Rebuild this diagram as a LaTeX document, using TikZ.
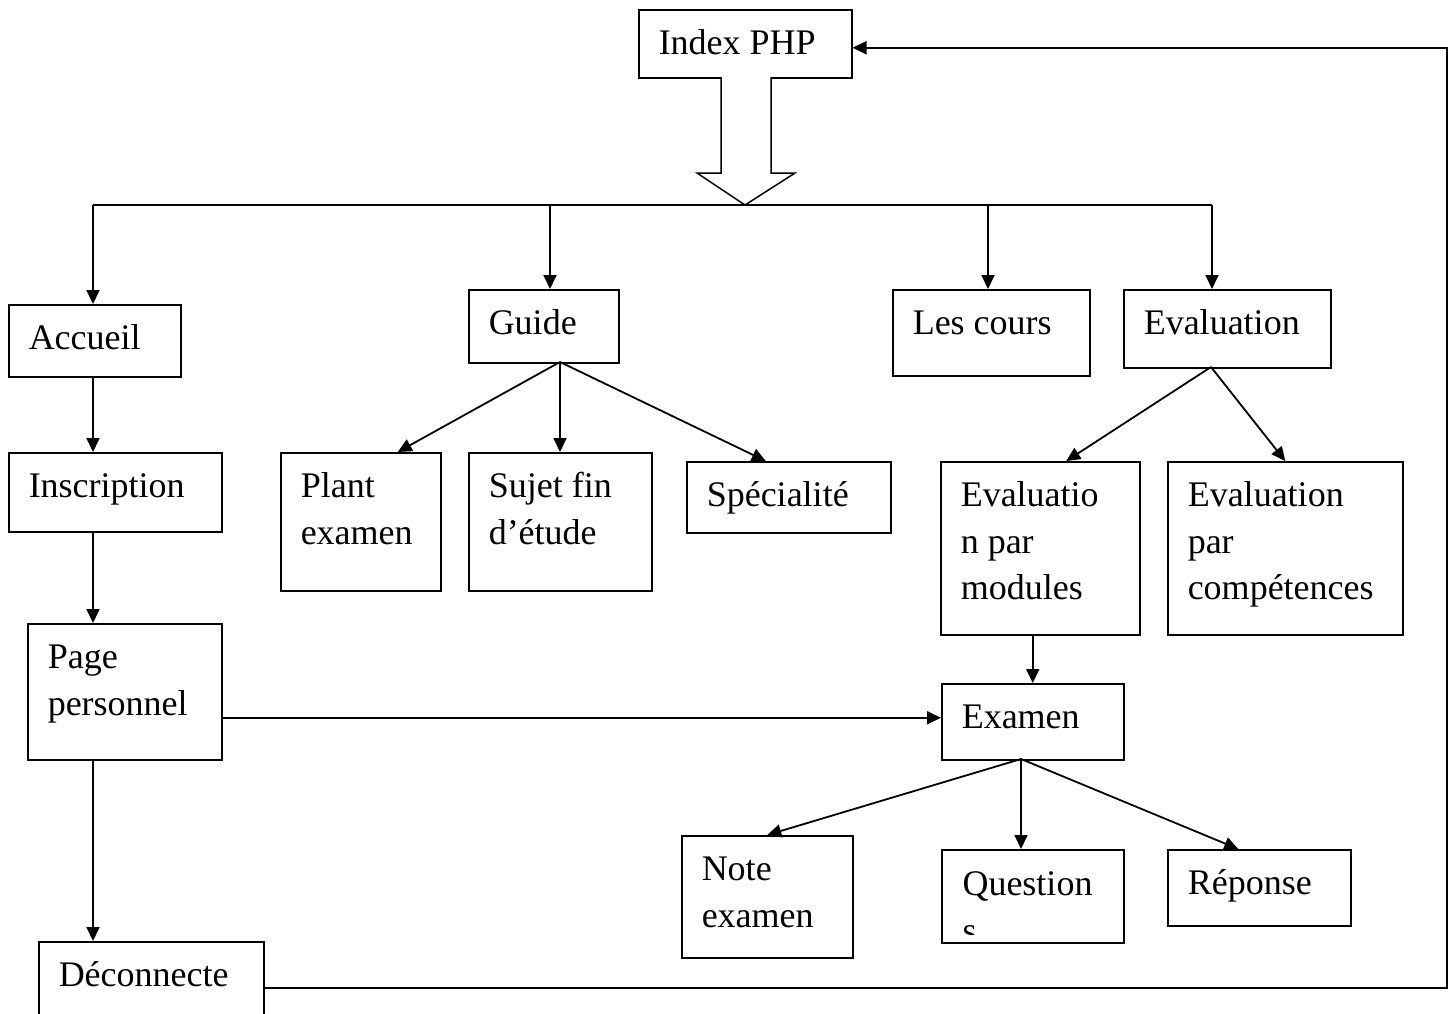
\documentclass[tikz,border=0pt]{standalone}
\usepackage{fontspec}
\setmainfont{Liberation Serif}
\usetikzlibrary{arrows.meta,positioning,calc}

\begin{document}
\begin{tikzpicture}[x=1pt,y=-1pt]
  \tikzset{PageStyle/.style = {shape          = rectangle,
                               draw, line width=1.5pt,
                               anchor         = north west,
                               align          = flush left,
                               inner xsep     = 20pt,
                               inner ysep     = 0pt,
                               text height    = 45pt,
                               execute at begin node = {\spaceskip=0pt\relax},
                               font           = \fontsize{36}{46.5}\selectfont},
           dims/.style 2 args = {text width=#1, text depth=#2},
           LinkStyle/.style   = {line width=1.8pt, -{Triangle[length=14pt,width=13pt]}}}
  \clip (0,0) rectangle (1454,1013);
	%%% HAUT %%%
	\node[PageStyle, dims={173pt}{23pt}] (idx) at (638,9) {Index PHP};
	\coordinate (tip) at (745,205);
	\draw[line width=1.5pt, fill=white] (721,77) -- (721,173) -- (697,173) -- (tip)
	      -- (795,173) -- (771,173) -- (771,77);
	\coordinate (b1) at (93,205);
	\coordinate (b2) at (550,205);
	\coordinate (b3) at (988,205);
	\coordinate (b4) at (1212,205);
	\draw[line width=1.8pt] (b1) -- (b4);
	%%% COLONNE DE GAUCHE %%%
	\node[PageStyle, dims={132pt}{27pt}] (acc) at (8,304) {Accueil};
	\node[PageStyle, dims={173pt}{34pt}] (ins) at (8,452) {Inscription};
	\node[PageStyle, dims={154pt}{91pt}] (pers) at (27,623) {Page\\personnel};
	\node[PageStyle, dims={185pt}{47pt}] (deco) at (38,941) {Déconnecte};
	\draw[LinkStyle] (b1) -- (b1 |- acc.north);
	\draw[LinkStyle] (b1 |- acc.south) -- (b1 |- ins.north);
	\draw[LinkStyle] (b1 |- ins.south) -- (b1 |- pers.north);
	\draw[LinkStyle] (b1 |- pers.south) -- (b1 |- deco.north);
	%%% GUIDE %%%
	\node[PageStyle, dims={110pt}{28pt}] (guide) at (468,289) {Guide};
	\node[PageStyle, dims={120pt}{93pt}] (plant) at (280,452) {Plant\\examen};
	\node[PageStyle, dims={143pt}{93pt}] (sujet) at (468,452) {Sujet fin\\d’étude};
	\node[PageStyle, dims={164pt}{26pt}] (spec) at (686,461) {Spécialité};
	\coordinate (g) at (560,362);
	\draw[LinkStyle] (b2) -- (b2 |- guide.north);
	\draw[LinkStyle] (g) -- ($(plant.north)+(37,0)$);
	\draw[LinkStyle] (g) -- (g |- sujet.north);
	\draw[LinkStyle] (g) -- ($(spec.north)+(-23,0)$);
	%%% COURS ET EVALUATION %%%
	\node[PageStyle, dims={157pt}{41pt}] (cours) at (892,289) {Les cours};
	\node[PageStyle, dims={167pt}{33pt}] (eval) at (1123,289) {Evaluation};
	\node[PageStyle, dims={159pt}{128pt}] (evmod) at (940,461) {Evaluatio\\n par\\modules};
	\node[PageStyle, dims={195pt}{128pt}] (evcomp) at (1167,461) {Evaluation\\par\\compétences};
	\coordinate (e) at (1211,367);
	\draw[LinkStyle] (b3) -- (b3 |- cours.north);
	\draw[LinkStyle] (b4) -- (b4 |- eval.north);
	\draw[LinkStyle] (e) -- ($(evmod.north)+(26,0)$);
	\draw[LinkStyle] (e) -- (evcomp.north);
	%%% EXAMEN %%%
	\node[PageStyle, dims={142pt}{31pt}] (exam) at (941,683) {Examen};
	\node[PageStyle, dims={131pt}{77pt}] (note) at (681,835) {Note\\examen};
	\node[PageStyle, dims={142pt}{48pt},
	      path picture={\clip (path picture bounding box.north west)
	                       rectangle ([yshift=8pt]path picture bounding box.south east);
	                    \node[PageStyle, draw=none, dims={142pt}{48pt}]
	                       at (path picture bounding box.north west) {Question\\s};}] (quest) at (941,849) {};
	\node[PageStyle, dims={143pt}{31pt}] (rep) at (1167,849) {Réponse};
	\coordinate (x) at (1021,759);
	\draw[LinkStyle] (exam.north |- evmod.south) -- (exam.north);
	\draw[LinkStyle] ([yshift=4pt]exam.west -| pers.east) -- ([yshift=4pt]exam.west);
	\draw[LinkStyle] (x) -- (note.north);
	\draw[LinkStyle] (x) -- (x |- quest.north);
	\draw[LinkStyle] (x) -- ($(rep.north)+(-21,0)$);
	%%% RETOUR %%%
	\coordinate (ret) at (1447,500);
	\draw[LinkStyle] (deco.east) -| (ret) |- ([yshift=-4pt]idx.east);
\end{tikzpicture}
\end{document}
